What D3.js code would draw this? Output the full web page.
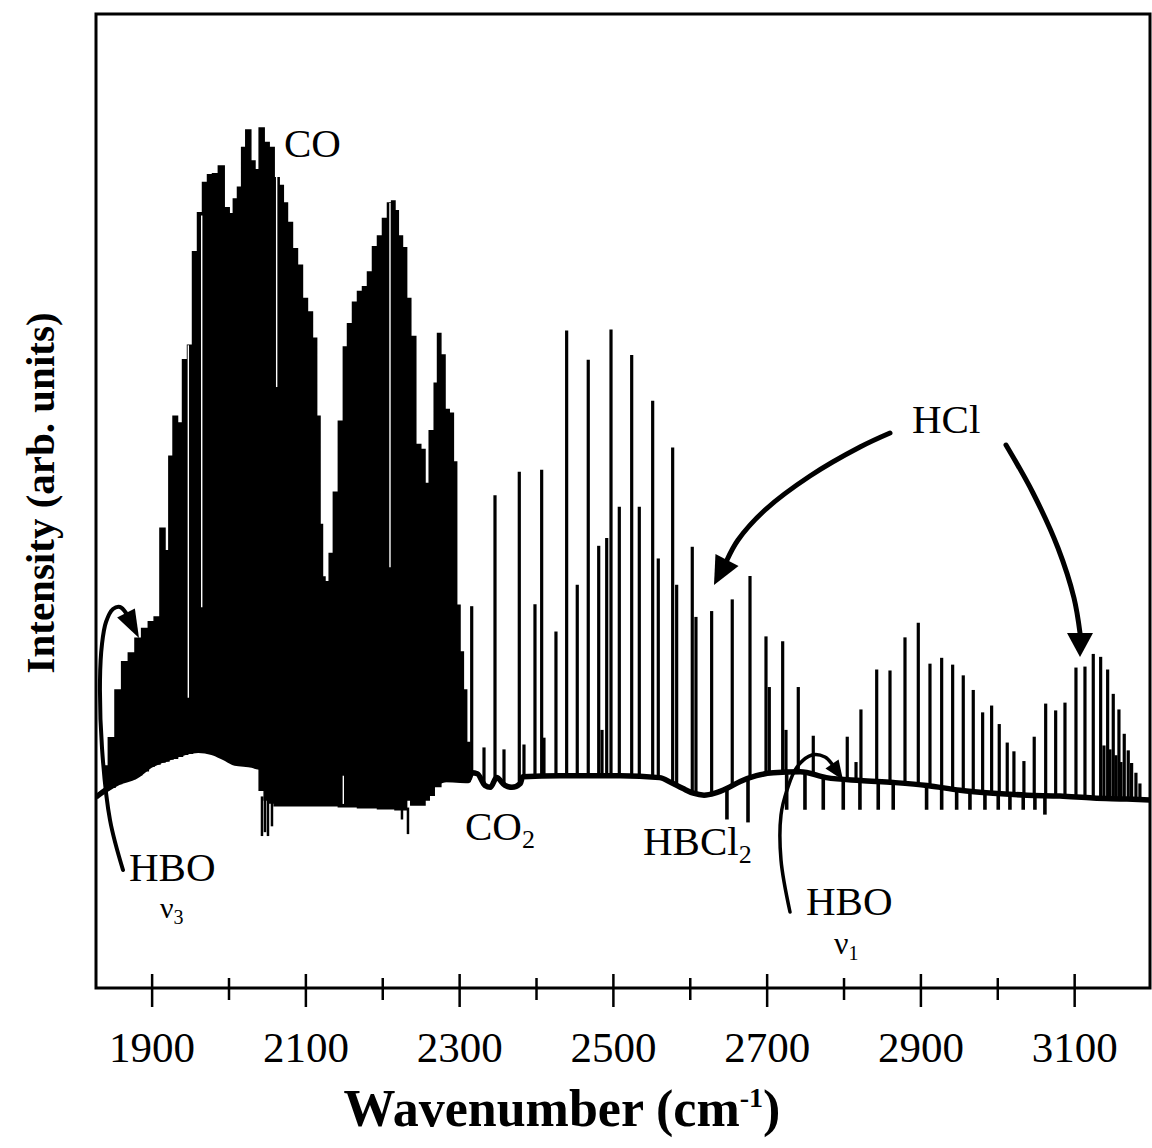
<!DOCTYPE html>
<html><head><meta charset="utf-8">
<script src="https://cdn.jsdelivr.net/npm/d3@7/dist/d3.min.js"></script>
<style>body{margin:0;background:#fff}svg{display:block}</style>
</head><body>
<svg id="chart" width="1152" height="1148"></svg>
<script>
// ---------- DATA ----------
const xMajorTicks = [1900, 2100, 2300, 2500, 2700, 2900, 3100];
const xMinorTicks = [2000, 2200, 2400, 2600, 2800, 3000];
const xTickLabels = ["1900", "2100", "2300", "2500", "2700", "2900", "3100"];

// baseline trace (wavenumber, intensity)
const baselineWn  = [1827, 1839, 1856, 1878, 1899, 1921, 1943, 1960, 1978, 1995, 2008, 2030, 2038, 2100, 2200, 2272, 2281, 2311, 2316, 2323, 2333, 2340, 2348, 2359, 2368, 2379, 2382, 2431, 2509, 2560, 2575, 2590, 2604, 2618, 2632, 2648, 2665, 2686, 2708, 2743, 2777, 2821, 2864, 2908, 2951, 2994, 3038, 3081, 3124, 3168, 3198];
const baselineVal = [19.6, 20.3, 21.1, 21.7, 22.9, 23.6, 24.2, 24.4, 24.2, 23.6, 23.1, 22.9, 22.7, 22.3, 21.8, 21.2, 21.4, 21.3, 22.1, 22.0, 20.8, 20.6, 21.6, 20.8, 20.6, 21.0, 21.7, 21.8, 21.8, 21.6, 21.1, 20.5, 20.0, 19.8, 20.0, 20.5, 21.2, 21.8, 22.1, 22.2, 21.6, 21.3, 21.1, 20.8, 20.3, 20.0, 19.8, 19.7, 19.5, 19.4, 19.3];

// CO band: dense rotational lines (upper / lower extent)
const coWn = [1838.7, 1847.4, 1856.0, 1864.7, 1873.4, 1882.0, 1890.7, 1899.4, 1905.9, 1914.5, 1919.0, 1924.6, 1929.8, 1936.3, 1942.8, 1949.3, 1955.8, 1962.3, 1968.8, 1975.3, 1981.8, 1990.5, 1997.0, 2003.5, 2007.8, 2014.3, 2018.6, 2025.1, 2031.6, 2036.0, 2042.5, 2049.0, 2055.5, 2062.0, 2068.5, 2072.8, 2079.3, 2085.8, 2092.3, 2098.8, 2105.3, 2111.8, 2116.2, 2120.6, 2122.6, 2127.1, 2133.6, 2137.9, 2146.6, 2150.9, 2157.4, 2163.9, 2170.4, 2176.9, 2183.4, 2189.9, 2196.4, 2202.9, 2209.4, 2213.7, 2218.1, 2222.4, 2228.9, 2233.2, 2239.7, 2246.2, 2252.7, 2257.2, 2263.7, 2270.2, 2272.3, 2278.8, 2283.2, 2289.7, 2294.0, 2298.3, 2302.7, 2307.0, 2311.3, 2315.7];
const coTop = [22.8, 25.7, 30.6, 33.5, 34.4, 35.9, 36.9, 37.6, 38.1, 47.2, 44.9, 54.6, 58.7, 58.0, 64.5, 66.0, 75.6, 79.6, 82.7, 83.5, 83.6, 84.4, 80.1, 79.5, 81.0, 82.2, 86.3, 88.1, 84.9, 84.0, 88.3, 86.8, 86.3, 83.2, 82.4, 80.6, 78.6, 75.9, 74.2, 70.8, 69.4, 66.7, 58.7, 47.6, 42.2, 41.7, 44.6, 50.9, 58.2, 65.8, 68.2, 70.4, 71.5, 72.0, 73.5, 76.1, 77.2, 79.0, 80.6, 80.8, 79.8, 77.2, 76.0, 70.8, 66.9, 55.8, 55.3, 51.8, 57.2, 62.1, 67.2, 65.0, 59.4, 59.0, 54.0, 39.3, 34.5, 30.6, 25.2, 22.3];
const coBottom = [20.3, 20.6, 21.0, 21.3, 21.5, 21.9, 22.3, 22.8, 23.0, 23.2, 23.3, 23.5, 23.6, 23.8, 24.0, 24.1, 24.2, 24.3, 24.2, 24.1, 24.0, 23.8, 23.6, 23.3, 23.1, 23.0, 22.9, 22.9, 22.9, 22.8, 20.3, 19.3, 19.0, 18.7, 18.7, 18.7, 18.7, 18.7, 18.7, 18.7, 18.7, 18.7, 18.7, 18.7, 18.7, 18.7, 18.7, 18.7, 18.6, 18.6, 18.6, 18.6, 18.5, 18.5, 18.5, 18.5, 18.4, 18.4, 18.4, 18.4, 18.3, 18.3, 18.3, 19.3, 18.8, 18.8, 18.8, 19.3, 19.8, 20.7, 20.7, 21.2, 21.4, 21.4, 21.4, 21.4, 21.3, 21.3, 21.2, 21.8];

// white gaps between CO lines
const coGapWn  = [1947.1, 1964.5, 2062.0, 2209.4, 2148.7];
const coGapTop = [66.0, 79.3, 83.5, 80.6, 21.9];
const coGapBot = [29.8, 39.1, 61.7, 43.2, 18.9];

// CO lines poking below the band
const coDownWn  = [2042.9, 2046.8, 2050.7, 2055.9, 2225.0, 2232.8];
const coDownVal = [15.6, 16.0, 15.6, 16.6, 17.3, 15.8];

// HCl and other emission lines above the baseline (wavenumber, peak)
const lineWn  = [2315.7, 2331.7, 2346.0, 2357.7, 2377.6, 2383.7, 2398.0, 2406.7, 2409.7, 2425.3, 2439.2, 2453.0, 2467.3, 2480.9, 2485.2, 2491.3, 2496.9, 2507.7, 2523.8, 2533.7, 2551.1, 2558.4, 2577.1, 2582.3, 2602.6, 2607.4, 2627.8, 2654.6, 2677.7, 2698.5, 2702.8, 2720.2, 2724.5, 2740.5, 2760.0, 2804.2, 2815.6, 2822.0, 2842.5, 2859.8, 2879.3, 2896.6, 2911.8, 2927.0, 2941.3, 2955.1, 2968.1, 2980.3, 2992.0, 3001.9, 3012.3, 3021.0, 3034.0, 3047.4, 3062.3, 3075.3, 3087.4, 3101.7, 3113.4, 3124.2, 3133.8, 3138.1, 3142.9, 3145.9, 3150.2, 3153.7, 3157.6, 3160.2, 3164.5, 3169.7, 3174.1, 3179.7, 3184.9];
const linePeak = [39.2, 24.7, 50.6, 24.5, 53.0, 25.0, 39.4, 53.2, 25.7, 36.6, 67.5, 41.4, 64.5, 45.4, 26.5, 46.2, 67.6, 49.4, 65.0, 49.4, 60.3, 44.1, 55.5, 41.4, 45.3, 38.1, 38.7, 39.9, 42.3, 36.1, 30.9, 35.6, 26.5, 30.9, 25.9, 25.8, 23.2, 28.6, 32.7, 32.6, 36.0, 37.5, 33.3, 33.9, 33.2, 32.1, 30.6, 28.3, 29.0, 27.1, 25.2, 24.3, 23.3, 25.8, 29.2, 28.5, 29.3, 32.9, 33.0, 34.3, 34.0, 24.9, 32.7, 24.5, 30.2, 23.9, 28.6, 23.2, 26.1, 24.4, 23.1, 22.1, 21.0];

// downward (absorption) lines below the baseline
const dipWn  = [2647.7, 2675.1, 2725.4, 2749.2, 2773.0, 2799.0, 2820.7, 2844.5, 2864.0, 2907.4, 2927.0, 2946.5, 2963.8, 2983.3, 3000.6, 3015.8, 3033.1, 3048.3, 3061.3];
const dipVal = [17.3, 17.0, 18.3, 18.3, 18.3, 18.3, 18.3, 18.3, 18.3, 18.3, 18.3, 18.3, 18.3, 18.3, 18.3, 18.3, 18.3, 18.3, 17.8];

// ---------- DRAW ----------
const L = 96, R = 1150, T = 14, B = 988;
const svg = d3.select("#chart");
const serif = "'Liberation Serif','Times New Roman',Times,serif";

const x = d3.scaleLinear().domain([1827, 3198]).range([L, R]);
const y = d3.scaleLinear().domain([0, 100]).range([B, T]);
const baseAt = d3.scaleLinear().domain(baselineWn).range(baselineVal);

svg.append("defs").append("clipPath").attr("id", "plotclip")
  .append("rect").attr("x", L).attr("y", T).attr("width", R - L).attr("height", B - T);

const plot = svg.append("g").attr("clip-path", "url(#plotclip)");

// emission lines
plot.append("g").selectAll("line").data(lineWn).join("line")
  .attr("x1", d => x(d)).attr("x2", d => x(d))
  .attr("y1", d => y(baseAt(d)))
  .attr("y2", (d, i) => y(linePeak[i]))
  .attr("stroke", "#000").attr("stroke-width", 3.2);

// downward lines
plot.append("g").selectAll("line").data(dipWn).join("line")
  .attr("x1", d => x(d)).attr("x2", d => x(d))
  .attr("y1", d => y(baseAt(d)))
  .attr("y2", (d, i) => y(dipVal[i]))
  .attr("stroke", "#000").attr("stroke-width", 3.6);

// CO band
const coData = coWn.map((w, i) => ({w, t: coTop[i], b: coBottom[i]}));
plot.append("path").datum(coData)
  .attr("d", d3.area().x(d => x(d.w)).y0(d => y(d.b)).y1(d => y(d.t)).curve(d3.curveStep))
  .attr("fill", "#000").attr("stroke", "#000").attr("stroke-width", 1.5);

plot.append("g").selectAll("line").data(coDownWn).join("line")
  .attr("x1", d => x(d)).attr("x2", d => x(d))
  .attr("y1", d => y(baseAt(d) - 3))
  .attr("y2", (d, i) => y(coDownVal[i]))
  .attr("stroke", "#000").attr("stroke-width", 2.5);

plot.append("g").selectAll("line").data(coGapWn).join("line")
  .attr("x1", d => x(d)).attr("x2", d => x(d))
  .attr("y1", (d, i) => y(coGapTop[i]))
  .attr("y2", (d, i) => y(coGapBot[i]))
  .attr("stroke", "#fff").attr("stroke-width", 1.4);

// baseline trace
const baseData = baselineWn.map((w, i) => ({w, v: baselineVal[i]}));
plot.append("path").datum(baseData)
  .attr("d", d3.line().x(d => x(d.w)).y(d => y(d.v)).curve(d3.curveMonotoneX))
  .attr("fill", "none").attr("stroke", "#000").attr("stroke-width", 5.5);

// frame
svg.append("path")
  .attr("d", `M${L},${B} L${L},${T} L${R},${T} L${R},${B} Z`)
  .attr("fill", "none").attr("stroke", "#000").attr("stroke-width", 3);

// ticks
const tg = svg.append("g");
tg.selectAll("line.maj").data(xMajorTicks).join("line").attr("class", "maj")
  .attr("x1", d => x(d)).attr("x2", d => x(d)).attr("y1", B - 14).attr("y2", B + 19)
  .attr("stroke", "#000").attr("stroke-width", 2.5);
tg.selectAll("line.min").data(xMinorTicks).join("line").attr("class", "min")
  .attr("x1", d => x(d)).attr("x2", d => x(d)).attr("y1", B - 10).attr("y2", B + 12)
  .attr("stroke", "#000").attr("stroke-width", 2.5);
tg.selectAll("text").data(xMajorTicks).join("text")
  .attr("x", d => x(d)).attr("y", 1062).attr("text-anchor", "middle")
  .attr("font-family", serif).attr("font-size", 43).attr("fill", "#000")
  .text((d, i) => xTickLabels[i]);

// axis titles
svg.append("text").attr("x", 562).attr("y", 1126).attr("text-anchor", "middle")
  .attr("font-family", serif).attr("font-weight", "bold").attr("font-size", 52)
  .html('Wavenumber (cm<tspan dy="-19" font-size="28">-1</tspan><tspan dy="19">)</tspan>');
svg.append("text").attr("transform", "translate(54,493) rotate(-90)")
  .attr("text-anchor", "middle")
  .attr("font-family", serif).attr("font-weight", "bold").attr("font-size", 41)
  .text("Intensity (arb. units)");

// annotations
const ann = svg.append("g").attr("font-family", serif).attr("fill", "#000");
ann.append("text").attr("x", 284).attr("y", 157).attr("font-size", 41).text("CO");
ann.append("text").attr("x", 912).attr("y", 433).attr("font-size", 41).text("HCl");
ann.append("text").attr("x", 465).attr("y", 840).attr("font-size", 41)
  .html('CO<tspan dy="8" font-size="26">2</tspan>');
ann.append("text").attr("x", 643).attr("y", 855).attr("font-size", 41)
  .html('HBCl<tspan dy="8" font-size="26">2</tspan>');
ann.append("text").attr("x", 129).attr("y", 881).attr("font-size", 41).text("HBO");
ann.append("text").attr("x", 160).attr("y", 918).attr("font-size", 30)
  .html('ν<tspan dy="6" font-size="20">3</tspan>');
ann.append("text").attr("x", 806).attr("y", 915).attr("font-size", 41).text("HBO");
ann.append("text").attr("x", 834).attr("y", 954).attr("font-size", 32)
  .html('ν<tspan dy="6" font-size="20">1</tspan>');

// arrows
function arrow(pts, tip, half, sw) {
  svg.append("path").attr("d", d3.line().curve(d3.curveCatmullRom)(pts))
    .attr("fill", "none").attr("stroke", "#000").attr("stroke-width", sw)
    .attr("stroke-linecap", "round");
  const b = pts[pts.length - 1];
  const dx = tip[0] - b[0], dy = tip[1] - b[1];
  const len = Math.hypot(dx, dy);
  const nx = -dy / len * half, ny = dx / len * half;
  svg.append("path")
    .attr("d", `M${tip[0]},${tip[1]} L${b[0] + nx},${b[1] + ny} L${b[0] - nx},${b[1] - ny} Z`)
    .attr("fill", "#000");
}
arrow([[890,433],[860,447],[810,476],[765,510],[738,540],[727,560]], [714,585], 13, 5);
arrow([[1006,445],[1033,493],[1058,548],[1074,598],[1080,633]], [1080,657], 13, 5);
arrow([[123,870],[110,820],[102,748],[100,680],[102,644],[106,622],[113,609],[120,607],[126,613]], [139,638], 10, 4);
arrow([[790,912],[781,860],[781,815],[787,790],[797,767],[812,755],[825,757],[832,764]], [843,780], 8, 3.5);
</script>
</body></html>
